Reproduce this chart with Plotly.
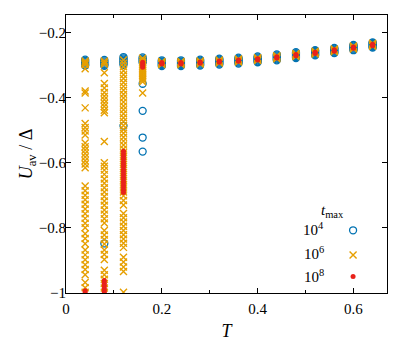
import plotly.graph_objects as go

# temperatures of the columns
T = [0.04, 0.08, 0.12, 0.16, 0.20, 0.24, 0.28, 0.32, 0.36, 0.40,
     0.44, 0.48, 0.52, 0.56, 0.60, 0.64]

# U_av / Delta, one list of runs per temperature
u_1e4 = [
    [-0.284, -0.288, -0.292, -0.296, -0.300, -0.302],
    [-0.285, -0.289, -0.293, -0.297, -0.300, -0.303, -0.848],
    [-0.276, -0.280, -0.284, -0.288, -0.292, -0.296, -0.300, -0.487],
    [-0.277, -0.281, -0.285, -0.289, -0.293, -0.358, -0.441, -0.523, -0.566],
    [-0.286, -0.289, -0.292, -0.295, -0.298, -0.301, -0.304],
    [-0.286, -0.289, -0.292, -0.295, -0.298, -0.301, -0.304],
    [-0.284, -0.287, -0.290, -0.293, -0.296, -0.299, -0.302],
    [-0.281, -0.284, -0.287, -0.290, -0.293, -0.296, -0.299],
    [-0.278, -0.281, -0.284, -0.287, -0.290, -0.293, -0.296],
    [-0.274, -0.277, -0.280, -0.283, -0.286, -0.289, -0.292],
    [-0.268, -0.271, -0.274, -0.277, -0.280, -0.283, -0.286],
    [-0.261, -0.264, -0.267, -0.270, -0.273, -0.276, -0.279],
    [-0.255, -0.257, -0.260, -0.263, -0.266, -0.269, -0.271],
    [-0.248, -0.250, -0.253, -0.256, -0.259, -0.262, -0.264],
    [-0.239, -0.241, -0.244, -0.247, -0.250, -0.253, -0.255],
    [-0.231, -0.233, -0.236, -0.239, -0.242, -0.245, -0.247],
]

u_1e6 = [
    [-0.288, -0.292, -0.296, -0.300, -0.312, -0.380, -0.386, -0.432, -0.480,
     -0.492, -0.503, -0.515, -0.540, -0.551, -0.561, -0.572, -0.583, -0.594,
     -0.604, -0.616, -0.672, -0.686, -0.700, -0.714, -0.728, -0.742, -0.757,
     -0.771, -0.786, -0.800, -0.818, -0.833, -0.849, -0.868, -0.883, -0.898,
     -0.913, -0.928, -0.944, -0.968, -0.984, -0.998],
    [-0.288, -0.293, -0.298, -0.324, -0.357, -0.371, -0.385, -0.396, -0.407,
     -0.418, -0.428, -0.439, -0.447, -0.535, -0.600, -0.611, -0.623, -0.636,
     -0.650, -0.663, -0.677, -0.690, -0.704, -0.718, -0.731, -0.745, -0.758,
     -0.772, -0.785, -0.808, -0.822, -0.836, -0.850, -0.868, -0.882, -0.897,
     -0.930, -0.944, -0.958, -0.971, -0.985, -0.998],
    [-0.285, -0.295, -0.306, -0.318, -0.330, -0.342, -0.354, -0.366, -0.378,
     -0.390, -0.402, -0.414, -0.426, -0.438, -0.450, -0.462, -0.474, -0.486,
     -0.498, -0.510, -0.522, -0.534, -0.546, -0.558, -0.570, -0.582, -0.594,
     -0.606, -0.618, -0.630, -0.642, -0.654, -0.666, -0.678, -0.690, -0.702,
     -0.716, -0.730, -0.756, -0.769, -0.782, -0.795, -0.808, -0.821, -0.834,
     -0.847, -0.860, -0.890, -0.905, -0.920, -0.934, -0.998],
    [-0.280, -0.286, -0.292, -0.298, -0.304, -0.310, -0.316, -0.322, -0.328,
     -0.334, -0.340, -0.346, -0.352, -0.386],
    [-0.290, -0.293, -0.296, -0.299],
    [-0.290, -0.293, -0.296, -0.299],
    [-0.288, -0.291, -0.294, -0.297],
    [-0.285, -0.288, -0.291, -0.294],
    [-0.282, -0.285, -0.288, -0.291],
    [-0.278, -0.281, -0.284, -0.287],
    [-0.272, -0.275, -0.278, -0.281],
    [-0.265, -0.268, -0.271, -0.274],
    [-0.258, -0.261, -0.264, -0.267],
    [-0.251, -0.254, -0.257, -0.260],
    [-0.242, -0.245, -0.248, -0.251],
    [-0.234, -0.237, -0.240, -0.243],
]

u_1e8 = [
    [-0.993, -0.998],
    [-0.962, -0.970, -0.978, -0.986, -0.994, -0.999],
    [-0.565, -0.573, -0.581, -0.589, -0.597, -0.605, -0.613, -0.621, -0.629,
     -0.637, -0.645, -0.653, -0.661, -0.669, -0.677, -0.685, -0.692],
    [-0.292, -0.297, -0.302, -0.307],
    [-0.293, -0.295, -0.297],
    [-0.293, -0.295, -0.297],
    [-0.291, -0.293, -0.295],
    [-0.288, -0.290, -0.292],
    [-0.285, -0.287, -0.289],
    [-0.281, -0.283, -0.285],
    [-0.275, -0.277, -0.279],
    [-0.268, -0.270, -0.272],
    [-0.261, -0.263, -0.265],
    [-0.254, -0.256, -0.258],
    [-0.245, -0.247, -0.249],
    [-0.237, -0.239, -0.241],
]

labels = ["10<sup>4</sup>", "10<sup>6</sup>", "10<sup>8</sup>"]
colors = ["#0072B2", "#E69F00", "#E8221A"]


def flatten(runs):
    xs, ys = [], []
    for t, col in zip(T, runs):
        xs += [t] * len(col)
        ys += col
    return xs, ys


fig = go.Figure()

x, y = flatten(u_1e4)
fig.add_trace(go.Scatter(x=x, y=y, mode="markers", name=" ", legend="legend",
                         marker=dict(symbol="circle-open", size=7,
                                     color=colors[0], line=dict(width=1.3))))
x, y = flatten(u_1e6)
fig.add_trace(go.Scatter(x=x, y=y, mode="markers", name=" ", legend="legend2",
                         marker=dict(symbol="x-thin", size=7, color=colors[1],
                                     line=dict(width=1.4, color=colors[1]))))
x, y = flatten(u_1e8)
fig.add_trace(go.Scatter(x=x, y=y, mode="markers", name=" ", legend="legend3",
                         marker=dict(symbol="circle", size=5, color=colors[2])))

axis = dict(showline=True, linecolor="black", linewidth=1, mirror="ticks",
            ticks="inside", ticklen=5, tickcolor="black", showgrid=False,
            zeroline=False)

fig.update_xaxes(axis, range=[0, 0.67], tickvals=[0, 0.2, 0.4, 0.6],
                 minor=dict(tickvals=[0.1, 0.3, 0.5], ticks="inside",
                            ticklen=3, tickcolor="black"),
                 ticklabelstandoff=2,
                 title=dict(text="<i>T</i>", standoff=8))
fig.update_yaxes(axis, range=[-1, -0.147],
                 tickvals=[-1, -0.8, -0.6, -0.4, -0.2],
                 ticklabelstandoff=-4,
                 title=dict(text="<i>U</i><sub>av</sub> / Δ", standoff=1))

# legend: labels on the left, symbols on the right
fig.add_annotation(x=0.872, y=0.295, xref="paper", yref="paper",
                   text="<i>t</i><sub>max</sub>", showarrow=False,
                   xanchor="right", yanchor="middle")
for lab, yy in zip(labels, [0.230, 0.143, 0.061]):
    fig.add_annotation(x=0.81, y=yy, xref="paper", yref="paper", text=lab,
                       showarrow=False, xanchor="right", yanchor="middle")

leg = dict(xanchor="left", yanchor="top", bgcolor="rgba(0,0,0,0)",
           itemwidth=30, font=dict(size=15))

fig.update_layout(
    width=411, height=343,
    margin=dict(l=66, r=24, t=15, b=50, autoexpand=False),
    plot_bgcolor="white", paper_bgcolor="white",
    font=dict(family="Liberation Serif", size=15, color="black"),
    showlegend=True,
    legend=dict(leg, x=0.832, y=0.284),
    legend2=dict(leg, x=0.832, y=0.195),
    legend3=dict(leg, x=0.832, y=0.118),
)

fig.write_html("out.html", config={"displayModeBar": False},
               post_script="document.body.style.margin='0';")
